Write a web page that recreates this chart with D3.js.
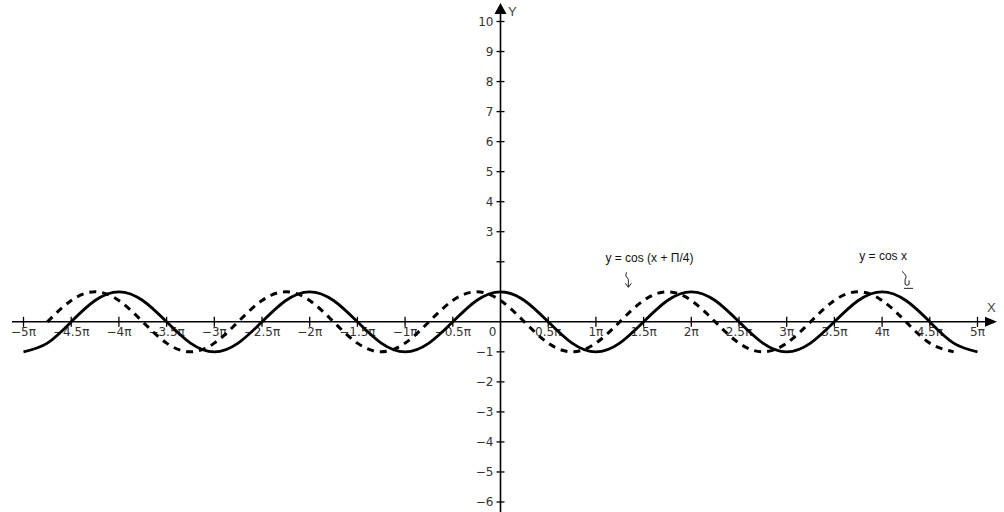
<!DOCTYPE html>
<html>
<head>
<meta charset="utf-8">
<script src="https://cdn.jsdelivr.net/npm/d3@7"></script>
<style>
  html, body { margin: 0; padding: 0; background: #fff; }
  svg { display: block; }
  text { font-family: "DejaVu Sans", Verdana, sans-serif; }
</style>
</head>
<body>
<svg id="chart" width="1004" height="512"></svg>
<script>
// ---- data (x in multiples of π) ----
const xTickValues = [-5, -4.5, -4, -3.5, -3, -2.5, -2, -1.5, -1, -0.5, 0, 0.5, 1, 1.5, 2, 2.5, 3, 3.5, 4, 4.5, 5];
const xTickLabels = ["−5π", "−4.5π", "−4π", "−3.5π", "−3π", "−2.5π", "−2π", "−1.5π", "−1π", "−0.5π", "0", "0.5π", "1π", "1.5π", "2π", "2.5π", "3π", "3.5π", "4π", "4.5π", "5π"];
const yTickValues = [-6, -5, -4, -3, -2, -1, 1, 2, 3, 4, 5, 6, 7, 8, 9, 10];
const yTickLabels = ["−6", "−5", "−4", "−3", "−2", "−1", "", "", "3", "4", "5", "6", "7", "8", "9", "10"];

// y = cos x, sampled every 0.25π from −5π to 5π
const cosX = [-5, -4.75, -4.5, -4.25, -4, -3.75, -3.5, -3.25, -3, -2.75, -2.5, -2.25, -2, -1.75, -1.5, -1.25, -1, -0.75, -0.5, -0.25, 0,
              0.25, 0.5, 0.75, 1, 1.25, 1.5, 1.75, 2, 2.25, 2.5, 2.75, 3, 3.25, 3.5, 3.75, 4, 4.25, 4.5, 4.75, 5];
const cosY = [-1, -0.71, 0, 0.71, 1, 0.71, 0, -0.71, -1, -0.71, 0, 0.71, 1, 0.71, 0, -0.71, -1, -0.71, 0, 0.71, 1,
              0.71, 0, -0.71, -1, -0.71, 0, 0.71, 1, 0.71, 0, -0.71, -1, -0.71, 0, 0.71, 1, 0.71, 0, -0.71, -1];

// y = cos(x + π/4), sampled every 0.25π from −4.75π to 4.75π
const shiftX = [-4.75, -4.5, -4.25, -4, -3.75, -3.5, -3.25, -3, -2.75, -2.5, -2.25, -2, -1.75, -1.5, -1.25, -1, -0.75, -0.5, -0.25, 0,
                0.25, 0.5, 0.75, 1, 1.25, 1.5, 1.75, 2, 2.25, 2.5, 2.75, 3, 3.25, 3.5, 3.75, 4, 4.25, 4.5, 4.75];
const shiftY = [0, 0.71, 1, 0.71, 0, -0.71, -1, -0.71, 0, 0.71, 1, 0.71, 0, -0.71, -1, -0.71, 0, 0.71, 1, 0.71,
                0, -0.71, -1, -0.71, 0, 0.71, 1, 0.71, 0, -0.71, -1, -0.71, 0, 0.71, 1, 0.71, 0, -0.71, -1];

const annotations = [
  { text: "y = cos (x + Π/4)", x: 1.1, y: 2.0 },
  { text: "y = cos x", x: 3.76, y: 2.05 }
];

// ---- scales ----
const x = d3.scaleLinear().domain([-5, 5]).range([23.5, 977.5]);
const y = d3.scaleLinear().domain([-6, 10]).range([502, 21.5]);

const svg = d3.select("#chart");
svg.append("rect").attr("width", 1004).attr("height", 512).attr("fill", "#fff");

const x0 = x(0), y0 = y(0);

// axes lines
svg.append("line").attr("x1", 12).attr("x2", 988).attr("y1", y0).attr("y2", y0)
  .attr("stroke", "#000").attr("stroke-width", 1.6);
svg.append("line").attr("x1", x0).attr("x2", x0).attr("y1", 12).attr("y2", 512)
  .attr("stroke", "#000").attr("stroke-width", 1.6);

// arrows
svg.append("path").attr("d", `M${997},${y0} L${985},${y0 - 5} L${985},${y0 + 5} Z`).attr("fill", "#000");
svg.append("path").attr("d", `M${x0},${3} L${x0 - 6},${14} L${x0 + 6},${14} Z`).attr("fill", "#000");

// axis letters
svg.append("text").attr("x", 987).attr("y", 312).attr("font-size", 13).attr("fill", "#444")
  .style("font-family", "'Liberation Sans', Arial, sans-serif").text("X");
svg.append("text").attr("x", 508).attr("y", 16).attr("font-size", 13).attr("fill", "#444")
  .style("font-family", "'Liberation Sans', Arial, sans-serif").text("Y");

// x ticks
const xg = svg.append("g");
xg.selectAll("line").data(xTickValues.filter(d => d !== 0)).join("line")
  .attr("x1", d => x(d)).attr("x2", d => x(d))
  .attr("y1", y0 - 5).attr("y2", y0 + 5)
  .attr("stroke", "#000").attr("stroke-width", 1.3);
xg.selectAll("text").data(xTickValues).join("text")
  .attr("x", (d, i) => d === 0 ? x0 - 8 : x(d))
  .attr("y", y0 + 14)
  .attr("text-anchor", "middle")
  .attr("font-size", 12)
  .attr("fill", "#333")
  .text((d, i) => xTickLabels[i]);

// y ticks
const yg = svg.append("g");
yg.selectAll("line").data(yTickValues).join("line")
  .attr("x1", x0 - 4).attr("x2", x0 + 4)
  .attr("y1", d => y(d)).attr("y2", d => y(d))
  .attr("stroke", "#000").attr("stroke-width", 1.3);
yg.selectAll("text").data(yTickValues).join("text")
  .attr("x", x0 - 7)
  .attr("y", d => y(d))
  .attr("dy", "0.36em")
  .attr("text-anchor", "end")
  .attr("font-size", 12)
  .attr("fill", "#333")
  .text((d, i) => yTickLabels[i]);

// curves
const line = d3.line().x(d => x(d[0])).y(d => y(d[1])).curve(d3.curveNatural);
svg.append("path")
  .attr("d", line(shiftX.map((v, i) => [v, shiftY[i]])))
  .attr("fill", "none").attr("stroke", "#000").attr("stroke-width", 3)
  .attr("stroke-dasharray", "7,6");
svg.append("path")
  .attr("d", line(cosX.map((v, i) => [v, cosY[i]])))
  .attr("fill", "none").attr("stroke", "#000").attr("stroke-width", 2.8);

// annotations
svg.selectAll("text.ann").data(annotations).join("text")
  .attr("class", "ann")
  .attr("x", d => x(d.x)).attr("y", d => y(d.y))
  .attr("font-size", 12)
  .attr("fill", "#111")
  .style("font-family", "'Liberation Sans', Arial, sans-serif")
  .text(d => d.text);

// hand-drawn pointer arrows
const a1x = x(1.34), a1y = y(1.65);
svg.append("path")
  .attr("d", `M${a1x - 2},${a1y} Q${a1x - 4},${a1y + 4} ${a1x},${a1y + 7} L${a1x},${a1y + 15}`)
  .attr("fill", "none").attr("stroke", "#222").attr("stroke-width", 1);
svg.append("path")
  .attr("d", `M${a1x - 3},${a1y + 11} L${a1x},${a1y + 15} L${a1x + 3},${a1y + 11}`)
  .attr("fill", "none").attr("stroke", "#222").attr("stroke-width", 1);

const a2x = x(4.22), a2y = y(1.68);
svg.append("path")
  .attr("d", `M${a2x - 1},${a2y} Q${a2x + 5},${a2y + 5} ${a2x + 2},${a2y + 8} L${a2x + 2},${a2y + 13} Q${a2x + 4},${a2y + 15} ${a2x + 6},${a2y + 13} L${a2x + 6},${a2y + 9}`)
  .attr("fill", "none").attr("stroke", "#222").attr("stroke-width", 1);
svg.append("line")
  .attr("x1", a2x + 1).attr("x2", a2x + 10).attr("y1", a2y + 17).attr("y2", a2y + 17)
  .attr("stroke", "#222").attr("stroke-width", 1);
</script>
</body>
</html>
